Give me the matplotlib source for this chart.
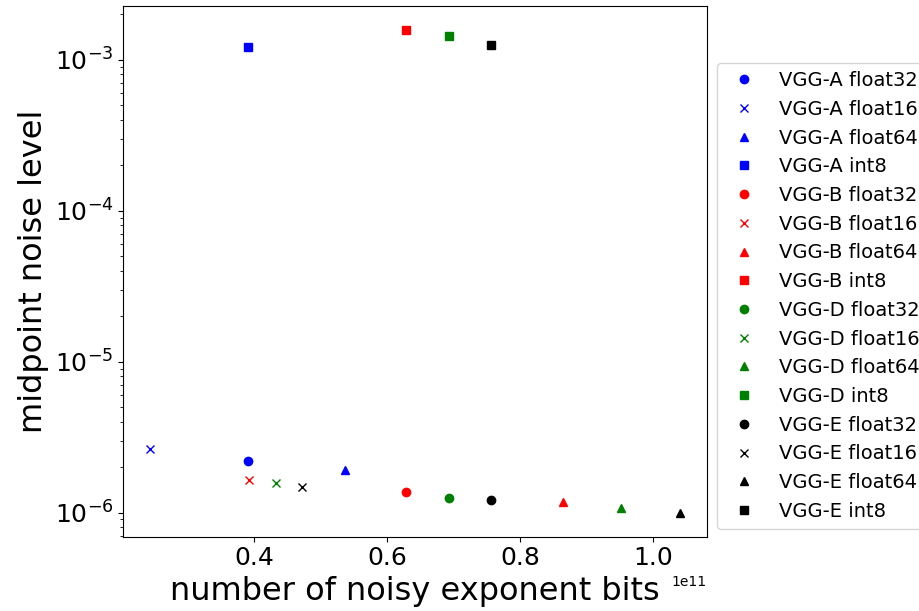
import matplotlib
matplotlib.use('Agg')
import matplotlib.pyplot as plt

# noisy exponent bits (x1e11) and midpoint noise level per model / dtype
models = ['VGG-A', 'VGG-B', 'VGG-D', 'VGG-E']
colors = ['b', 'r', 'g', 'k']
dtypes = ['float32', 'float16', 'float64', 'int8']
markers = ['o', 'x', '^', 's']

bits_a = [0.390e11, 0.243e11, 0.537e11, 0.390e11]
bits_b = [0.628e11, 0.392e11, 0.864e11, 0.628e11]
bits_d = [0.692e11, 0.432e11, 0.952e11, 0.692e11]
bits_e = [0.756e11, 0.472e11, 1.040e11, 0.756e11]

noise_a = [2.20e-6, 2.65e-6, 1.91e-6, 1.22e-3]
noise_b = [1.36e-6, 1.65e-6, 1.18e-6, 1.57e-3]
noise_d = [1.25e-6, 1.57e-6, 1.08e-6, 1.44e-3]
noise_e = [1.21e-6, 1.48e-6, 1.00e-6, 1.26e-3]

bits = [bits_a, bits_b, bits_d, bits_e]
noise = [noise_a, noise_b, noise_d, noise_e]

fig = plt.figure(figsize=(9.2, 6.11), dpi=100)
ax = fig.add_axes([0.134, 0.1216, 0.634, 0.8686])

for m, c, xs, ys in zip(models, colors, bits, noise):
    for d, mk, x, y in zip(dtypes, markers, xs, ys):
        ax.plot([x], [y], mk, color=c, label=m + ' ' + d)

ax.set_yscale('log')
ax.set_xlabel('number of noisy exponent bits', fontsize=23)
ax.set_ylabel('midpoint noise level', fontsize=23)
ax.tick_params(labelsize=18)

fig.legend(loc='upper left', bbox_to_anchor=(0.779, 0.8964), borderaxespad=0,
           fontsize=14)

plt.savefig('out.png', dpi=100)
